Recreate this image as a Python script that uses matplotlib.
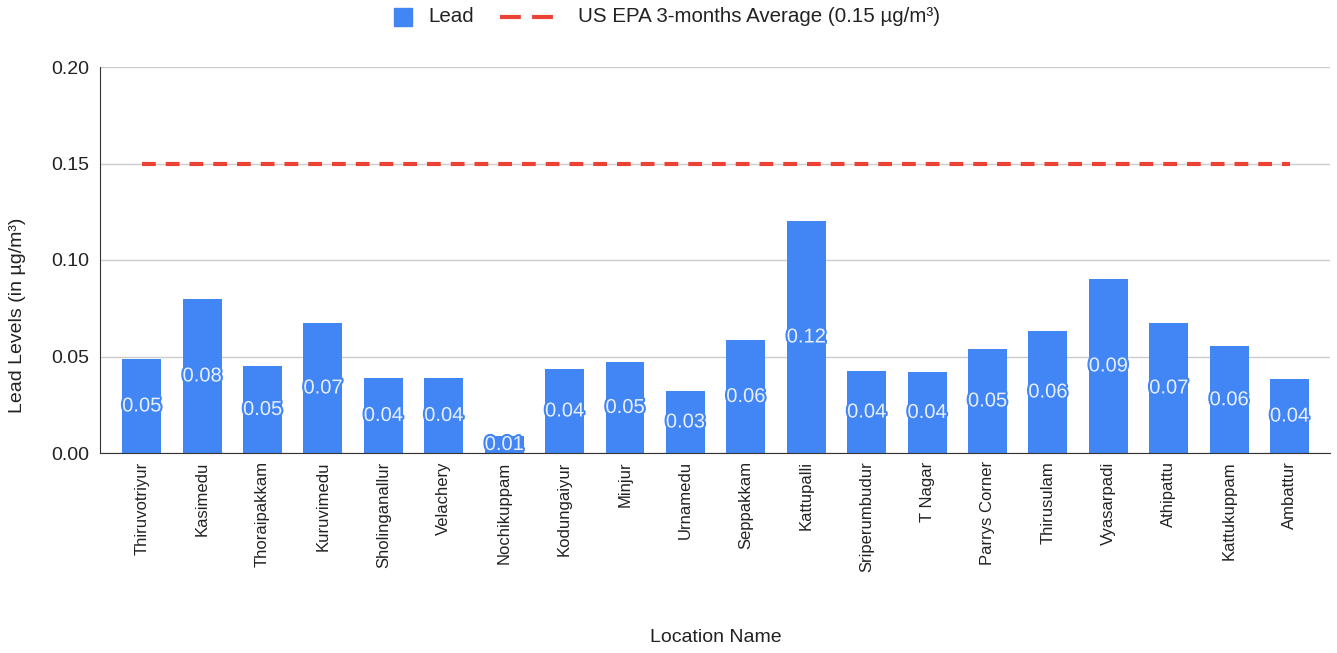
import matplotlib.pyplot as plt
import matplotlib.patheffects as pe
from matplotlib.lines import Line2D
from matplotlib.patches import Rectangle

plt.rcParams['font.family'] = ['Liberation Sans', 'DejaVu Sans']

# lead readings per location (µg/m³)
locations = ['Thiruvotriyur', 'Kasimedu', 'Thoraipakkam', 'Kuruvimedu', 'Sholinganallur',
             'Velachery', 'Nochikuppam', 'Kodungaiyur', 'Minjur', 'Urnamedu',
             'Seppakkam', 'Kattupalli', 'Sriperumbudur', 'T Nagar', 'Parrys Corner',
             'Thirusulam', 'Vyasarpadi', 'Athipattu', 'Kattukuppam', 'Ambattur']
lead = [0.0487, 0.0798, 0.0451, 0.0674, 0.0389,
        0.0389, 0.0088, 0.0435, 0.0472, 0.0321,
        0.0585, 0.1202, 0.0425, 0.0420, 0.0539,
        0.0632, 0.0902, 0.0674, 0.0552, 0.0383]
epa_limit = 0.15
y_ticks = [0.00, 0.05, 0.10, 0.15, 0.20]
series_names = ['Lead', 'US EPA 3-months Average (0.15 µg/m³)']

blue = '#4285f4'
red = '#ea4335'
text_col = '#222222'
dash = (0, (3.3, 2.4))

W, H = 1337, 653
fig = plt.figure(figsize=(W / 100, H / 100), dpi=100)
ax = fig.add_axes([100 / W, 1 - 453 / H, 1230 / W, 386 / H])

x = range(len(locations))
ax.bar(x, lead, width=0.645, color=blue, zorder=2)

# EPA reference line from first to last bar
ax.plot([0, len(locations) - 1], [epa_limit, epa_limit], color=red, lw=3,
        linestyle=dash, zorder=3)

# value labels in the middle of each bar
for i, v in enumerate(lead):
    ax.text(i, v / 2, f'{v:.2f}', ha='center', va='center', fontsize=14.5,
            color='#e8f0fe', zorder=4,
            path_effects=[pe.withStroke(linewidth=3, foreground=blue)])

ax.set_xlim(-0.69, len(locations) - 0.33)
ax.set_ylim(0, 0.2)
ax.set_yticks(y_ticks)
ax.set_yticklabels([f'{t:.2f}' for t in y_ticks], fontsize=14, color=text_col)
ax.set_xticks(list(x))
ax.set_xticklabels(locations, rotation=90, fontsize=12, color=text_col)
ax.tick_params(axis='y', length=0, pad=8)
ax.tick_params(axis='x', length=0, pad=6)

ax.grid(axis='y', color='#cccccc', lw=1, zorder=0)
for s in ['top', 'right']:
    ax.spines[s].set_visible(False)
ax.spines['left'].set_color('#333333')
ax.spines['bottom'].set_color('#333333')
ax.spines['bottom'].set_zorder(5)

fig.text(18 / W, 1 - 315 / H, 'Lead Levels (in µg/m³)', ha='center', va='center',
         rotation=90, fontsize=14, color=text_col)
fig.text(716 / W, 1 - 637 / H, 'Location Name', ha='center', va='center',
         fontsize=14, color=text_col)

# legend row at the top, laid out in pixels
ly = 1 - 17 / H
fig.add_artist(Rectangle((394 / W, 1 - 26 / H), 18 / W, 18 / H, color=blue,
                         transform=fig.transFigure))
fig.text(428 / W, ly, series_names[0], ha='left', va='center', fontsize=14.8, color=text_col)
fig.add_artist(Line2D([500 / W, 562 / W], [ly, ly], color=red, lw=3,
                      linestyle=(0, (5.0, 2.7)), transform=fig.transFigure))
fig.text(578 / W, ly, series_names[1], ha='left', va='center', fontsize=14.8, color=text_col)

fig.savefig('out.png', dpi=100)
